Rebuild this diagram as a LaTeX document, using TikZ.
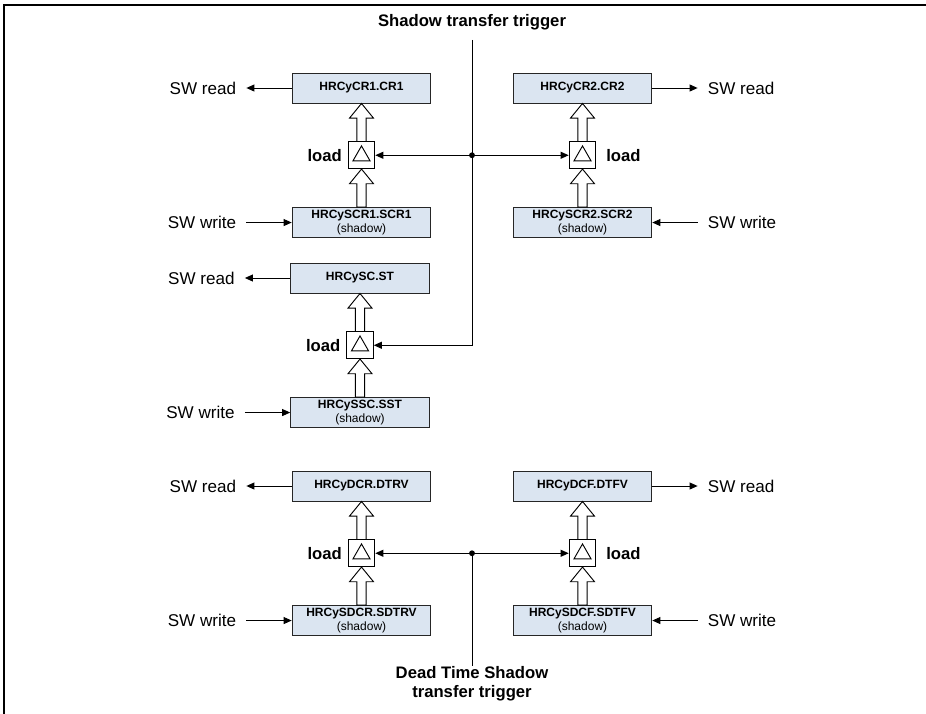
\documentclass[tikz,border=0pt]{standalone}
\usepackage{xcolor}
\usepackage{fontspec}
\setmainfont{Liberation Sans}
\usepackage{tikz}
\usetikzlibrary{arrows.meta,positioning,calc}

\definecolor{regfill}{HTML}{DBE5F1}
\newcommand{\shd}{{\mdseries (shadow)}}

\begin{document}
\begin{tikzpicture}[
  x=0.75pt, y=-0.75pt,
  font=\fontsize{12.8}{15}\selectfont,
  node distance=34pt,
  reg/.style={draw=black!85,fill=regfill,line width=0.7pt,minimum width=104pt,minimum height=22.5pt,inner sep=0pt,align=center,font=\fontsize{9}{10.5}\selectfont\bfseries},
  ldbox/.style={draw,fill=white,line width=0.7pt,minimum size=20pt,inner sep=0pt,
    path picture={\draw[line width=0.7pt] ([xshift=-6.4pt,yshift=-4.2pt]path picture bounding box.center)
      -- ([xshift=6.4pt,yshift=-4.2pt]path picture bounding box.center)
      -- ([yshift=7pt]path picture bounding box.center) -- cycle;}},
  swtxt/.style={inner xsep=7.5pt,inner ysep=2pt},
  lbl/.style={font=\fontsize{12.5}{14.5}\selectfont\bfseries},
  arrow/.style={-{Triangle[length=6pt,width=5.2pt]},line width=0.7pt},
  hollow/.style={draw,fill=white,line width=0.7pt,to path={let \p1=(\tikztostart),\p2=(\tikztotarget) in
    (\x1-3.5pt,\y1) -- (\x1-3.5pt,\y2-11pt) -- (\x1-9pt,\y2-11pt) -- (\x2,\y2)
    -- (\x1+9pt,\y2-11pt) -- (\x1+3.5pt,\y2-11pt) -- (\x1+3.5pt,\y1) -- cycle}},
]
\useasboundingbox (0,0) rectangle (926,714);
\draw[line width=1.2pt] (4,714) -- (4,5) -- (926,5);

% registers, upper pair
\node[reg]    (cr1)  at (361.5,88) {HRCyCR1.CR1};
\node[ldbox]  (ld1)  [below=28.5pt of cr1] {};
\node[reg]    (scr1) [below=28.5pt of ld1] {HRCySCR1.SCR1\\\shd};
\node[reg]    (cr2)  at (582.5,88) {HRCyCR2.CR2};
\node[ldbox]  (ld2)  [below=28.5pt of cr2] {};
\node[reg]    (scr2) [below=28.5pt of ld2] {HRCySCR2.SCR2\\\shd};
% status register
\node[reg]    (st)   at (360,278) {HRCySC.ST};
\node[ldbox]  (ld3)  [below=28.5pt of st] {};
\node[reg]    (sst)  [below=28.5pt of ld3] {HRCySSC.SST\\\shd};
% dead time registers
\node[reg]    (dtrv)  at (361.5,486) {HRCyDCR.DTRV};
\node[ldbox]  (ld4)   [below=28.5pt of dtrv] {};
\node[reg]    (sdtrv) [below=28.5pt of ld4] {HRCySDCR.SDTRV\\\shd};
\node[reg]    (dtfv)  at (582.5,486) {HRCyDCF.DTFV};
\node[ldbox]  (ld5)   [below=28.5pt of dtfv] {};
\node[reg]    (sdtfv) [below=28.5pt of ld5] {HRCySDCF.SDTFV\\\shd};

% load labels
\node[lbl,inner sep=0pt,left=4.2pt of ld1]  {load};
\node[lbl,inner sep=0pt,right=7.3pt of ld2] {load};
\node[lbl,inner sep=0pt,left=4.2pt of ld3]  {load};
\node[lbl,inner sep=0pt,left=4.2pt of ld4]  {load};
\node[lbl,inner sep=0pt,right=7.3pt of ld5] {load};

% software access
\node[swtxt] (rd1) [left=of cr1]    {SW read};
\node[swtxt] (wr1) [left=of scr1]   {SW write};
\node[swtxt] (rd2) [right=of cr2]   {SW read};
\node[swtxt] (wr2) [right=of scr2]  {SW write};
\node[swtxt] (rd3) [left=of st]     {SW read};
\node[swtxt] (wr3) [left=of sst]    {SW write};
\node[swtxt] (rd4) [left=of dtrv]   {SW read};
\node[swtxt] (wr4) [left=of sdtrv]  {SW write};
\node[swtxt] (rd5) [right=of dtfv]  {SW read};
\node[swtxt] (wr5) [right=of sdtfv] {SW write};
\draw[arrow] (cr1) -- (rd1);
\draw[arrow] (wr1) -- (scr1);
\draw[arrow] (cr2) -- (rd2);
\draw[arrow] (wr2) -- (scr2);
\draw[arrow] (st) -- (rd3);
\draw[arrow] (wr3) -- (sst);
\draw[arrow] (dtrv) -- (rd4);
\draw[arrow] (wr4) -- (sdtrv);
\draw[arrow] (dtfv) -- (rd5);
\draw[arrow] (wr5) -- (sdtfv);

% shadow -> register transfer
\draw[hollow] (scr1.north) to (ld1.south);
\draw[hollow] (ld1.north) to (cr1.south);
\draw[hollow] (scr2.north) to (ld2.south);
\draw[hollow] (ld2.north) to (cr2.south);
\draw[hollow] (sst.north) to (ld3.south);
\draw[hollow] (ld3.north) to (st.south);
\draw[hollow] (sdtrv.north) to (ld4.south);
\draw[hollow] (ld4.north) to (dtrv.south);
\draw[hollow] (sdtfv.north) to (ld5.south);
\draw[hollow] (ld5.north) to (dtfv.south);

% transfer triggers
\node[lbl] (sttrig) at (472,22) {Shadow transfer trigger};
\coordinate (j1) at (sttrig.south |- ld1.east);
\draw[arrow,shorten <=4pt] (sttrig.south) |- (ld3.east);
\draw[arrow] (j1) -- (ld1.east);
\draw[arrow] (j1) -- (ld2.west);
\fill (j1) circle[radius=2.2pt];

\node[lbl,align=center,anchor=north,inner sep=0pt] (dttrig) at (472,666) {Dead Time Shadow\\transfer trigger};
\coordinate (j2) at (dttrig.north |- ld4.east);
\draw[line width=0.7pt] (j2) -- (dttrig.north);
\draw[arrow] (j2) -- (ld4.east);
\draw[arrow] (j2) -- (ld5.west);
\fill (j2) circle[radius=2.2pt];
\end{tikzpicture}
\end{document}
